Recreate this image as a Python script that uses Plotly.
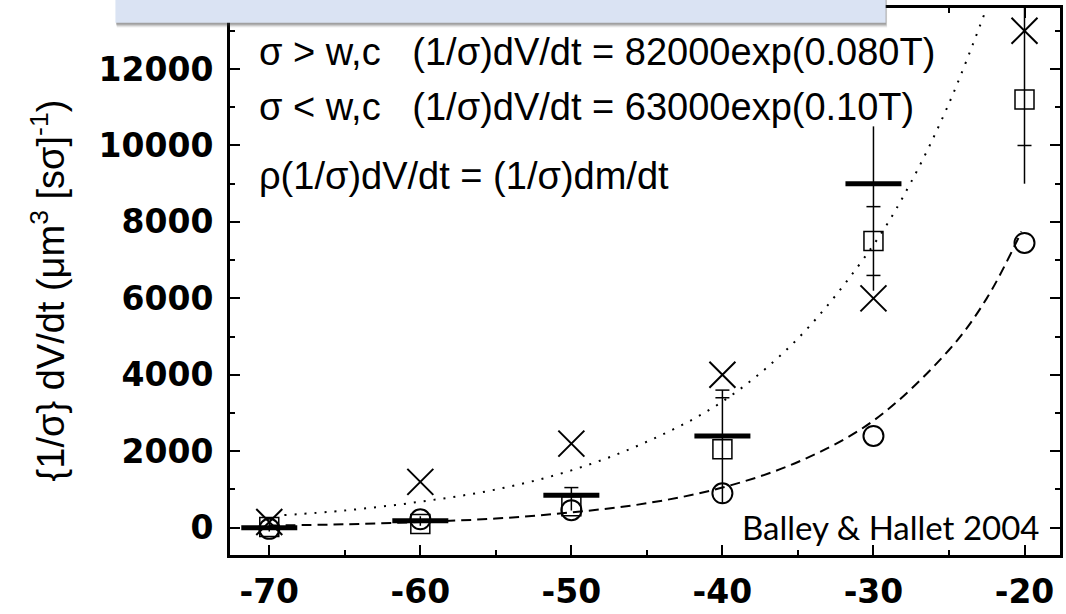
import plotly.graph_objects as go

# ---- data ----
temps = [-70, -60, -50, -40, -30, -20]
cross_vals = [150, 1200, 2200, 4000, 6000, 13000]
square_vals = [20, 100, 560, 2050, 7500, 11200]
circle_vals = [-30, 220, 460, 900, 2400, 7450]
bar_temps = [-70, -60, -50, -40, -30]
bar_vals = [0, 180, 850, 2400, 9000]
err_low = [-100, 50, 450, 650, 6200, 9000]
err_high = [150, 300, 1060, 3600, 10500, 14500]
cap_temps = [-50, -40, -40, -30, -30, -20]
cap_vals = [1050, 3600, 3400, 8400, 6600, 10000]

fit_hi_T = [-69, -65, -60, -55, -50, -45, -40, -35, -30, -27.5, -25, -22.6]
fit_hi_V = [330, 450, 680, 1000, 1500, 2250, 3300, 4950, 7400, 9050, 11100, 13500]
fit_lo_T = [-70, -65, -60, -55, -50, -45, -40, -35, -30, -25, -22.5, -20.2]
fit_lo_V = [55, 90, 150, 240, 400, 640, 1050, 1720, 2800, 4650, 6000, 7750]

x_tickvals = [-70, -60, -50, -40, -30, -20]
x_ticktext = ["-70", "-60", "-50", "-40", "-30", "-20"]
y_tickvals = [0, 2000, 4000, 6000, 8000, 10000, 12000]
y_ticktext = ["0", "2000", "4000", "6000", "8000", "10000", "12000"]

legend_lines = [
    "σ > w,c   (1/σ)dV/dt = 82000exp(0.080T)",
    "σ < w,c   (1/σ)dV/dt = 63000exp(0.10T)",
    "ρ(1/σ)dV/dt = (1/σ)dm/dt",
]
y_title = "{1/σ} dV/dt (μm<sup>3</sup> [sσ]<sup>-1</sup>)"
credit = "Balley &amp; Hallet 2004"

# ---- layout geometry (pixels) ----
W, H = 1066, 614
ML, MR, MT, MB = 230, 3, 8, 45
PW, PH = W - ML - MR, H - MT - MB


def px(x):
    return (x - ML) / PW


def py(y):
    return (H - MB - y) / PH


# error-bar segments
seg_x, seg_y = [], []
for t, lo, hi in zip(temps, err_low, err_high):
    seg_x += [t, t, None]
    seg_y += [lo, hi, None]

fig = go.Figure()
fig.add_trace(go.Scatter(x=fit_hi_T, y=fit_hi_V, mode="lines", line_shape="spline",
                         line=dict(color="black", width=2, dash="2px,8px"), hoverinfo="skip"))
fig.add_trace(go.Scatter(x=fit_lo_T, y=fit_lo_V, mode="lines", line_shape="spline",
                         line=dict(color="black", width=2, dash="10px,6px"), hoverinfo="skip"))
fig.add_trace(go.Scatter(x=seg_x, y=seg_y, mode="lines",
                         line=dict(color="black", width=1.5), hoverinfo="skip"))
fig.add_trace(go.Scatter(x=cap_temps, y=cap_vals, mode="markers",
                         marker=dict(symbol="line-ew", size=10, line=dict(width=1.5, color="black"))))
fig.add_trace(go.Scatter(x=bar_temps, y=bar_vals, mode="markers",
                         marker=dict(symbol="line-ew", size=40, line=dict(width=5, color="black"))))
fig.add_trace(go.Scatter(x=temps, y=square_vals, mode="markers",
                         marker=dict(symbol="square-open", size=19, color="black", line=dict(width=1.5, color="black"))))
fig.add_trace(go.Scatter(x=temps, y=circle_vals, mode="markers",
                         marker=dict(symbol="circle-open", size=20, color="black", line=dict(width=2, color="black"))))
fig.add_trace(go.Scatter(x=temps, y=cross_vals, mode="markers",
                         marker=dict(symbol="x-thin-open", size=26, color="black", line=dict(width=2, color="black"))))

tickfont = dict(family="DejaVu Sans", size=33, color="black", weight="bold")
axis_common = dict(showline=True, linewidth=3, linecolor="black", mirror="allticks",
                   ticks="inside", ticklen=10, tickwidth=2, tickcolor="black",
                   showgrid=False, zeroline=False, tickfont=tickfont, tickmode="array")

fig.update_layout(
    width=W, height=H,
    margin=dict(l=ML, r=MR, t=MT, b=MB, pad=0),
    paper_bgcolor="white", plot_bgcolor="white",
    showlegend=False,
    xaxis=dict(range=[-72.6, -17.65], tickvals=x_tickvals, ticktext=x_ticktext, ticklabelstandoff=5,
               minor=dict(ticks="inside", ticklen=5, tickwidth=1.5, tickcolor="black", dtick=5, tick0=-70),
               **axis_common),
    yaxis=dict(range=[-714, 13597], tickvals=y_tickvals, ticktext=y_ticktext, ticklabelstandoff=7,
               minor=dict(ticks="inside", ticklen=5, tickwidth=1.5, tickcolor="black", dtick=1000, tick0=0),
               **axis_common),
)

# legend-like text lines
line_y = [53, 110, 180]
for txt, yy in zip(legend_lines, line_y):
    fig.add_annotation(text=txt, xref="paper", yref="paper", x=px(257), y=py(yy),
                       xanchor="left", yanchor="middle", showarrow=False,
                       font=dict(family="Liberation Sans", size=38, color="black"))

fig.add_annotation(text=y_title, xref="paper", yref="paper", x=px(47), y=py(298),
                   xanchor="center", yanchor="middle", textangle=-90, showarrow=False,
                   font=dict(family="Liberation Sans", size=38, color="black"))

fig.add_annotation(text=credit, xref="paper", yref="paper", x=px(742), y=py(540),
                   xanchor="left", yanchor="middle", showarrow=False,
                   font=dict(family="Lato", size=33, color="black"))

# blue header box with soft shadow
for off, alpha in [(5, 0.08), (4, 0.12), (3, 0.18), (2, 0.22)]:
    fig.add_shape(type="rect", xref="paper", yref="paper", layer="above",
                  x0=px(115 + off * 0.3), x1=px(888 + off * 0.3), y0=py(23 + off), y1=py(-5),
                  line=dict(width=0), fillcolor=f"rgba(60,60,60,{alpha})")
fig.add_shape(type="rect", xref="paper", yref="paper", layer="above",
              x0=px(115), x1=px(888), y0=py(23), y1=py(-5),
              line=dict(width=0), fillcolor="#DAE3F3")

fig.write_html("out.html")
